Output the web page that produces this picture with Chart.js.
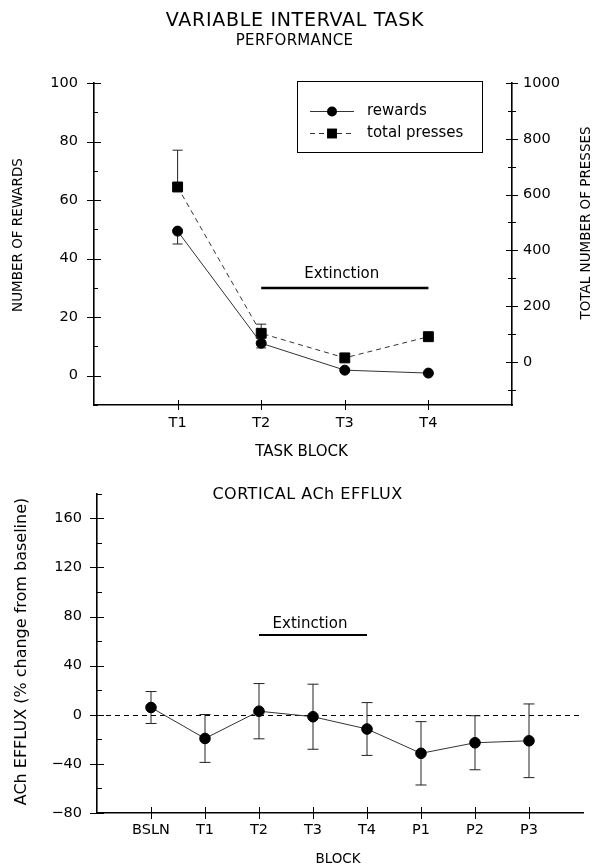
<!DOCTYPE html>
<html>
<head>
<meta charset="utf-8">
<script src="https://cdn.jsdelivr.net/npm/chart.js@4.4.0/dist/chart.umd.min.js"></script>
<style>
  body { margin: 0; background: #fff; width: 595px; height: 864px; position: relative; overflow: hidden; }
  #topWrap { position: absolute; left: 0; top: 0; }
  #botWrap { position: absolute; left: 0; top: 470px; }
</style>
</head>
<body>
<div id="topWrap"><canvas id="taskChart" width="595" height="470"></canvas></div>
<div id="botWrap"><canvas id="achChart" width="595" height="394"></canvas></div>
<script>
// top panel: variable interval task performance
const taskBlocks = ["T1", "T2", "T3", "T4"];
const rewards = [49.4, 11.1, 1.9, 0.9];
const rewardsErr = [4.4, 1.6, 0, 0];
const presses = [627, 102, 14, 90];
const pressesErr = [132, 33, 0, 0];
const rewardTicks = [0, 20, 40, 60, 80, 100];
const pressTicks = [0, 200, 400, 600, 800, 1000];
const taskExtinction = [2, 4]; // T2..T4
const taskExtinctionLevel = 30;

// bottom panel: cortical ACh efflux
const achBlocks = ["BSLN", "T1", "T2", "T3", "T4", "P1", "P2", "P3"];
const achEfflux = [5.9, -19.3, 2.9, -1.6, -11.6, -31.4, -22.8, -21.2];
const achErr = [13, 19.5, 22.5, 26.5, 21.5, 25.8, 22, 30];
const achTicks = [-80, -40, 0, 40, 80, 120, 160];
const achExtinction = [3, 5]; // T2..T4
const achExtinctionLevel = 65;

const FONT = "'DejaVu Sans', sans-serif";

const toPoints = (vals) => vals.map((v, i) => ({ x: i + 1, y: v }));
const tickText = (list) => (v) => (list.includes(v) ? String(v).replace("-", "\u2212") : "");

// text drawn at fixed spots (titles, axis names)
const panelText = {
  id: "panelText",
  afterDraw(chart, args, opts) {
    const ctx = chart.ctx;
    (opts.items || []).forEach((t) => {
      ctx.save();
      ctx.fillStyle = "#000";
      ctx.textAlign = "center";
      ctx.textBaseline = "middle";
      ctx.font = t.font;
      ctx.letterSpacing = t.spacing || "0px";
      ctx.translate(t.x, t.y);
      if (t.rotate) ctx.rotate(t.rotate);
      ctx.fillText(t.text, 0, 0);
      ctx.restore();
    });
  },
};

// tick marks: major ones cross the axis, minor ones point inward
const crossTicks = {
  id: "crossTicks",
  afterDraw(chart, args, opts) {
    const ctx = chart.ctx;
    ctx.save();
    ctx.strokeStyle = "#000";
    ctx.lineWidth = 1;
    Object.values(chart.scales).forEach((s) => {
      const spec = opts[s.id];
      if (!spec) return;
      s.ticks.forEach((t) => {
        const major = t.label !== "";
        if (!major && !spec.minor) return;
        const len = major ? spec.major : spec.minor;
        const p = Math.round(s.getPixelForValue(t.value)) + 0.5;
        ctx.beginPath();
        if (s.isHorizontal()) {
          ctx.moveTo(p, s.top - len);
          ctx.lineTo(p, s.top + len);
        } else {
          const left = s.position === "left";
          const ax = left ? s.right : s.left;
          const inward = left ? 1 : -1;
          if (!major && spec.inside) {
            ctx.moveTo(ax, p);
            ctx.lineTo(ax + inward * len, p);
          } else {
            ctx.moveTo(ax - len, p);
            ctx.lineTo(ax + len, p);
          }
        }
        ctx.stroke();
      });
    });
    ctx.restore();
  },
};

// one or two sided error bars
const errorBars = {
  id: "errorBars",
  beforeDatasetsDraw(chart, args, opts) {
    const ctx = chart.ctx;
    ctx.save();
    ctx.strokeStyle = "#222";
    ctx.lineWidth = 1;
    chart.data.datasets.forEach((ds, i) => {
      if (!ds.errors) return;
      const meta = chart.getDatasetMeta(i);
      const ys = chart.scales[ds.yAxisID];
      meta.data.forEach((pt, j) => {
        const e = ds.errors[j];
        if (!e) return;
        const v = ds.data[j].y;
        const sides = ds.errorSide ? [ds.errorSide] : [1, -1];
        sides.forEach((d) => {
          const py = ys.getPixelForValue(v + d * e);
          ctx.beginPath();
          ctx.moveTo(pt.x, pt.y);
          ctx.lineTo(pt.x, py);
          ctx.moveTo(pt.x - opts.cap, py);
          ctx.lineTo(pt.x + opts.cap, py);
          ctx.stroke();
        });
      });
    });
    ctx.restore();
  },
};

// "Extinction" bar
const extinctionBar = {
  id: "extinctionBar",
  afterDatasetsDraw(chart, args, opts) {
    const ctx = chart.ctx;
    const xs = chart.scales.x;
    const ys = chart.scales[opts.axis];
    const x0 = xs.getPixelForValue(opts.range[0]);
    const x1 = xs.getPixelForValue(opts.range[1]);
    const y = ys.getPixelForValue(opts.level);
    ctx.save();
    ctx.strokeStyle = "#000";
    ctx.lineWidth = opts.width;
    ctx.beginPath();
    ctx.moveTo(x0, y);
    ctx.lineTo(x1, y);
    ctx.stroke();
    ctx.fillStyle = "#000";
    ctx.font = "15px " + FONT;
    ctx.textAlign = "center";
    ctx.textBaseline = "middle";
    ctx.fillText("Extinction", (x0 + x1) / 2 + opts.dx, y - opts.gap);
    ctx.restore();
  },
};

// dashed baseline at 0
const zeroLine = {
  id: "zeroLine",
  beforeDatasetsDraw(chart) {
    const ctx = chart.ctx;
    const a = chart.chartArea;
    const y = Math.round(chart.scales.y.getPixelForValue(0)) + 0.5;
    ctx.save();
    ctx.strokeStyle = "#000";
    ctx.lineWidth = 1;
    ctx.setLineDash([5, 4]);
    ctx.beginPath();
    ctx.moveTo(a.left, y);
    ctx.lineTo(a.right, y);
    ctx.stroke();
    ctx.restore();
  },
};

// boxed legend inside the top plot
const boxLegend = {
  id: "boxLegend",
  afterDraw(chart, args, opts) {
    const ctx = chart.ctx;
    const b = opts.box;
    ctx.save();
    ctx.strokeStyle = "#000";
    ctx.lineWidth = 1;
    ctx.strokeRect(b.x + 0.5, b.y + 0.5, b.w, b.h);
    chart.data.datasets.forEach((ds, i) => {
      const y = b.y + opts.rows[i];
      ctx.strokeStyle = ds.borderColor;
      ctx.lineWidth = ds.borderWidth;
      ctx.setLineDash(ds.borderDash || []);
      ctx.beginPath();
      ctx.moveTo(b.x + 13, y);
      ctx.lineTo(b.x + 57, y);
      ctx.stroke();
      ctx.setLineDash([]);
      ctx.fillStyle = "#000";
      const cx = b.x + 35;
      if (ds.pointStyle === "rect") {
        const s = ds.pointRadius * Math.SQRT1_2;
        ctx.fillRect(cx - s, y - s, 2 * s, 2 * s);
      } else {
        ctx.beginPath();
        ctx.arc(cx, y, ds.pointRadius, 0, Math.PI * 2);
        ctx.fill();
      }
      ctx.font = "15px " + FONT;
      ctx.textAlign = "left";
      ctx.textBaseline = "middle";
      ctx.fillText(ds.label, b.x + 70, y);
    });
    ctx.restore();
  },
};

const axisBorder = { display: true, color: "#000", width: 1.6 };
const noGrid = { display: false, drawTicks: false, tickLength: 0 };
const tickFont = { family: FONT, size: 14.5 };

new Chart(document.getElementById("taskChart"), {
  type: "line",
  data: {
    datasets: [
      {
        label: "rewards",
        data: toPoints(rewards),
        yAxisID: "y",
        errors: rewardsErr,
        errorSide: -1,
        borderColor: "#333",
        borderWidth: 1,
        pointStyle: "circle",
        pointRadius: 5,
        pointHoverRadius: 5,
        pointBackgroundColor: "#000",
        pointBorderColor: "#000",
        fill: false,
        tension: 0,
      },
      {
        label: "total presses",
        data: toPoints(presses),
        yAxisID: "y2",
        errors: pressesErr,
        errorSide: 1,
        borderColor: "#333",
        borderWidth: 1,
        borderDash: [5, 4],
        pointStyle: "rect",
        pointRadius: 7,
        pointHoverRadius: 7,
        pointBackgroundColor: "#000",
        pointBorderColor: "#000",
        fill: false,
        tension: 0,
      },
    ],
  },
  options: {
    responsive: false,
    animation: false,
    layout: { padding: { top: 83, left: 0, right: 0, bottom: 0 } },
    plugins: {
      legend: { display: false },
      tooltip: { enabled: false },
      errorBars: { cap: 5 },
      extinctionBar: { axis: "y", range: taskExtinction, level: taskExtinctionLevel, width: 2.5, gap: 14, dx: -3 },
      boxLegend: { box: { x: 297, y: 81, w: 185, h: 71 }, rows: [30.5, 52.5] },
      crossTicks: {
        x: { major: 5 },
        y: { major: 7, minor: 4, inside: true },
        y2: { major: 6, minor: 4 },
      },
      panelText: {
        items: [
          { text: "VARIABLE INTERVAL TASK", x: 295, y: 21.5, font: "19px " + FONT, spacing: "0.7px" },
          { text: "PERFORMANCE", x: 294.5, y: 41, font: "15px " + FONT, spacing: "0.3px" },
          { text: "NUMBER OF REWARDS", x: 18, y: 235, rotate: -Math.PI / 2, font: "13.5px " + FONT },
          { text: "TOTAL NUMBER OF PRESSES", x: 586, y: 223, rotate: -Math.PI / 2, font: "13.5px " + FONT },
          { text: "TASK BLOCK", x: 301.5, y: 452, font: "15px " + FONT },
        ],
      },
    },
    scales: {
      x: {
        type: "linear",
        min: 0,
        max: taskBlocks.length + 1,
        grid: noGrid,
        border: axisBorder,
        ticks: {
          stepSize: 1,
          autoSkip: false,
          maxRotation: 0,
          color: "#000",
          font: tickFont,
          padding: 10,
          callback: (v) => taskBlocks[v - 1] || "",
        },
        afterFit: (s) => { s.height = 65; },
      },
      y: {
        position: "left",
        min: -10,
        max: 100,
        grid: noGrid,
        border: axisBorder,
        ticks: {
          stepSize: 10,
          color: "#000",
          font: tickFont,
          padding: 16,
          callback: tickText(rewardTicks),
        },
        afterFit: (s) => { s.width = 94; },
      },
      y2: {
        position: "right",
        min: -155,
        max: 1000,
        grid: noGrid,
        border: axisBorder,
        ticks: {
          stepSize: 100,
          includeBounds: false,
          color: "#000",
          font: tickFont,
          padding: 11,
          callback: tickText(pressTicks),
        },
        afterFit: (s) => { s.width = 83; },
      },
    },
  },
  plugins: [errorBars, extinctionBar, boxLegend, crossTicks, panelText],
});

new Chart(document.getElementById("achChart"), {
  type: "line",
  data: {
    datasets: [
      {
        label: "ACh efflux",
        data: toPoints(achEfflux),
        yAxisID: "y",
        errors: achErr,
        borderColor: "#333",
        borderWidth: 1,
        pointStyle: "circle",
        pointRadius: 5.3,
        pointHoverRadius: 5.3,
        pointBackgroundColor: "#000",
        pointBorderColor: "#000",
        fill: false,
        tension: 0,
      },
    ],
  },
  options: {
    responsive: false,
    animation: false,
    layout: { padding: { top: 19, left: 0, right: 12, bottom: 0 } },
    plugins: {
      legend: { display: false },
      tooltip: { enabled: false },
      errorBars: { cap: 5.5 },
      extinctionBar: { axis: "y", range: achExtinction, level: achExtinctionLevel, width: 2, gap: 11, dx: -3 },
      crossTicks: {
        x: { major: 6 },
        y: { major: 7, minor: 5, inside: true },
      },
      panelText: {
        items: [
          { text: "CORTICAL ACh EFFLUX", x: 307.5, y: 25, font: "16px " + FONT, spacing: "0.5px" },
          { text: "ACh EFFLUX (% change from baseline)", x: 21.5, y: 181.5, rotate: -Math.PI / 2, font: "16px " + FONT },
          { text: "BLOCK", x: 338, y: 389, font: "13.5px " + FONT },
        ],
      },
    },
    scales: {
      x: {
        type: "linear",
        min: 0,
        max: achBlocks.length + 1,
        grid: noGrid,
        border: axisBorder,
        ticks: {
          stepSize: 1,
          autoSkip: false,
          maxRotation: 0,
          color: "#000",
          font: tickFont,
          padding: 9,
          callback: (v) => achBlocks[v - 1] || "",
        },
        afterFit: (s) => { s.height = 51; },
      },
      y: {
        position: "left",
        min: -80,
        max: 180,
        grid: noGrid,
        border: axisBorder,
        ticks: {
          stepSize: 10,
          color: "#000",
          font: tickFont,
          padding: 15,
          callback: tickText(achTicks),
        },
        afterFit: (s) => { s.width = 97; },
      },
    },
  },
  plugins: [zeroLine, errorBars, extinctionBar, crossTicks, panelText],
});
</script>
</body>
</html>
